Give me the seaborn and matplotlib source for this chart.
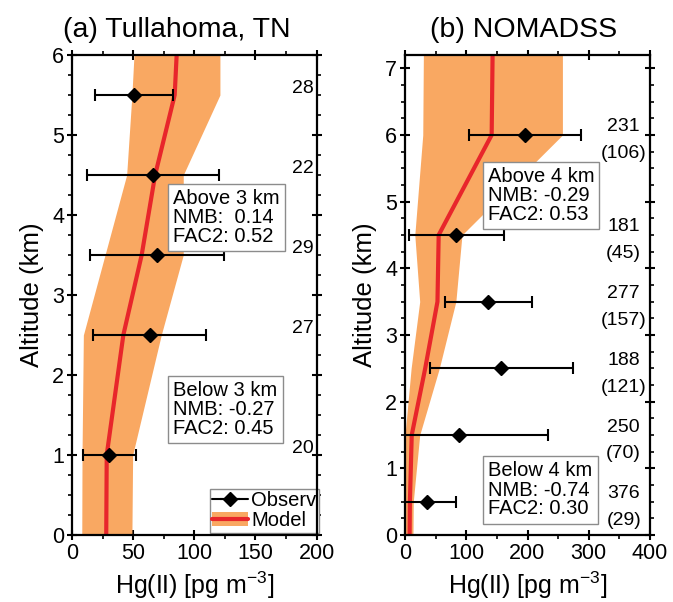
import matplotlib
matplotlib.use("Agg")
import matplotlib.pyplot as plt
from matplotlib.lines import Line2D
from matplotlib.patches import Patch
from matplotlib.ticker import MultipleLocator
import pandas as pd
import seaborn as sns

# ---- Tullahoma, TN ----
tn_obs_alt = [1.0, 2.5, 3.5, 4.5, 5.5]
tn_obs_mean = [30.5, 63.5, 69.5, 66.5, 50.5]
tn_obs_std = [21.5, 46.5, 55.0, 54.0, 32.0]
tn_obs_n = ["20", "27", "29", "22", "28"]
tn_mod_alt = [0.0, 1.0, 2.5, 3.5, 4.5, 5.5, 6.0]
tn_mod_mean = [28.0, 28.4, 42.0, 57.0, 68.0, 84.0, 85.6]
tn_mod_low = [8.0, 8.2, 9.3, 27.0, 44.7, 49.0, 50.7]
tn_mod_high = [49.0, 49.6, 73.0, 91.0, 91.0, 121.0, 121.0]
tn_stats = ["Above 3 km\nNMB:  0.14\nFAC2: 0.52",
            "Below 3 km\nNMB: -0.27\nFAC2: 0.45"]

# ---- NOMADSS ----
nm_obs_alt = [0.5, 1.5, 2.5, 3.5, 4.5, 6.0]
nm_obs_mean = [36.5, 88.0, 157.0, 136.0, 84.0, 196.0]
nm_obs_std = [47.0, 145.0, 117.0, 71.0, 77.0, 92.0]
nm_obs_n = ["376", "250", "188", "277", "181", "231"]
nm_obs_nsub = ["(29)", "(70)", "(121)", "(157)", "(45)", "(106)"]
nm_mod_alt = [0.0, 0.5, 1.5, 2.5, 3.5, 4.5, 6.0, 7.2]
nm_mod_mean = [7.5, 8.0, 11.0, 33.0, 53.0, 55.0, 141.5, 143.0]
nm_mod_low = [0.0, 0.0, 0.0, 10.0, 24.0, 16.0, 29.0, 30.0]
nm_mod_high = [13.0, 13.5, 24.0, 56.0, 83.0, 93.0, 257.0, 257.0]
nm_stats = ["Above 4 km\nNMB: -0.29\nFAC2: 0.53",
            "Below 4 km\nNMB: -0.74\nFAC2: 0.30"]

BAND = "#F9A862"
RED = "#E8262B"

sns.set_theme(style="ticks")
plt.rcParams["font.family"] = ["Liberation Sans", "DejaVu Sans"]
plt.rcParams["text.color"] = "black"
plt.rcParams["axes.labelcolor"] = "black"
plt.rcParams["mathtext.fontset"] = "custom"
plt.rcParams["mathtext.rm"] = "Liberation Sans"
plt.rcParams["mathtext.it"] = "Liberation Sans"

fig = plt.figure(figsize=(6.73, 6.02), dpi=100)
axA = fig.add_axes([72 / 673, 67 / 602, 244.5 / 673, 480 / 602])
axB = fig.add_axes([405 / 673, 67 / 602, 245 / 673, 480 / 602])


def draw_profile(ax, mod_alt, mod_mean, mod_low, mod_high,
                 obs_alt, obs_mean, obs_std):
    ax.fill_betweenx(mod_alt, mod_low, mod_high, color=BAND, lw=0, zorder=1)
    mod = pd.DataFrame({"alt": mod_alt, "hg": mod_mean})
    sns.lineplot(data=mod, x="hg", y="alt", orient="y", color=RED, lw=3,
                 errorbar=None, ax=ax, zorder=2)
    ax.errorbar(obs_mean, obs_alt, xerr=obs_std, fmt="D", color="black",
                ms=7, elinewidth=1.5, capsize=4, capthick=1.5, zorder=3)


def style_axes(ax, xmax, xmaj, xmin, ymax, ymin_step):
    ax.set_xlim(0, xmax)
    ax.set_ylim(0, ymax)
    ax.xaxis.set_major_locator(MultipleLocator(xmaj))
    ax.xaxis.set_minor_locator(MultipleLocator(xmin))
    ax.yaxis.set_major_locator(MultipleLocator(1))
    ax.yaxis.set_minor_locator(MultipleLocator(ymin_step))
    ax.tick_params(which="both", top=True, right=True, color="black",
                   labelsize=15.5, labelcolor="black", pad=2)
    ax.tick_params(which="major", direction="inout", length=7, width=1.5)
    ax.tick_params(which="minor", direction="out", length=3, width=1.2)
    for s in ax.spines.values():
        s.set_linewidth(1.6)
        s.set_color("black")
    ax.set_xlabel("Hg(II) [pg m$^{-3}$]", fontsize=18, labelpad=4)
    ax.set_ylabel("Altitude (km)", fontsize=18.5, labelpad=6)


box = dict(boxstyle="square,pad=0.25", fc="white", ec="#8c8c8c", lw=1)

# (a) Tullahoma
draw_profile(axA, tn_mod_alt, tn_mod_mean, tn_mod_low, tn_mod_high,
             tn_obs_alt, tn_obs_mean, tn_obs_std)
style_axes(axA, 200, 50, 25, 6, 0.25)
for a, n in zip(tn_obs_alt, tn_obs_n):
    axA.text(188.5, a + 0.08, n, ha="center", va="center", fontsize=14)
axA.text(83, 3.97, tn_stats[0], ha="left", va="center", fontsize=14.5,
         linespacing=1.0, bbox=box, zorder=4)
axA.text(83, 1.57, tn_stats[1], ha="left", va="center", fontsize=14.5,
         linespacing=1.0, bbox=box, zorder=4)
axA.text(0.428, 1.038, "(a) Tullahoma, TN", transform=axA.transAxes,
         ha="center", va="baseline", fontsize=20.5)

h_cap = axA.errorbar([], [], xerr=[], fmt="-D", color="black", ms=7,
                     elinewidth=1.5, capsize=4, capthick=1.5)
h_mod = (Patch(color=BAND, lw=0), Line2D([], [], color=RED, lw=3))
leg = axA.legend([h_cap, h_mod], ["Observ", "Model"], loc="lower right",
                 bbox_to_anchor=(1.01, 0.005), fontsize=14.5, frameon=True,
                 fancybox=False, edgecolor="#8c8c8c", framealpha=1,
                 handlelength=1.8, handletextpad=0.15, borderpad=0.12,
                 labelspacing=0.05, borderaxespad=0.0)
leg.get_frame().set_linewidth(1)
leg.set_zorder(2.2)

# (b) NOMADSS
draw_profile(axB, nm_mod_alt, nm_mod_mean, nm_mod_low, nm_mod_high,
             nm_obs_alt, nm_obs_mean, nm_obs_std)
style_axes(axB, 400, 100, 50, 7.2, 0.25)
for a, n, m in zip(nm_obs_alt, nm_obs_n, nm_obs_nsub):
    axB.text(357, a + 0.12, n, ha="center", va="center", fontsize=14)
    axB.text(357, a - 0.28, m, ha="center", va="center", fontsize=14)
axB.text(135, 5.09, nm_stats[0], ha="left", va="center", fontsize=14.5,
         linespacing=1.0, bbox=box, zorder=4)
axB.text(136, 0.675, nm_stats[1], ha="left", va="center", fontsize=14.5,
         linespacing=1.0, bbox=box, zorder=4)
axB.text(0.482, 1.038, "(b) NOMADSS", transform=axB.transAxes,
         ha="center", va="baseline", fontsize=20.5)

fig.savefig("out.png", dpi=100)
